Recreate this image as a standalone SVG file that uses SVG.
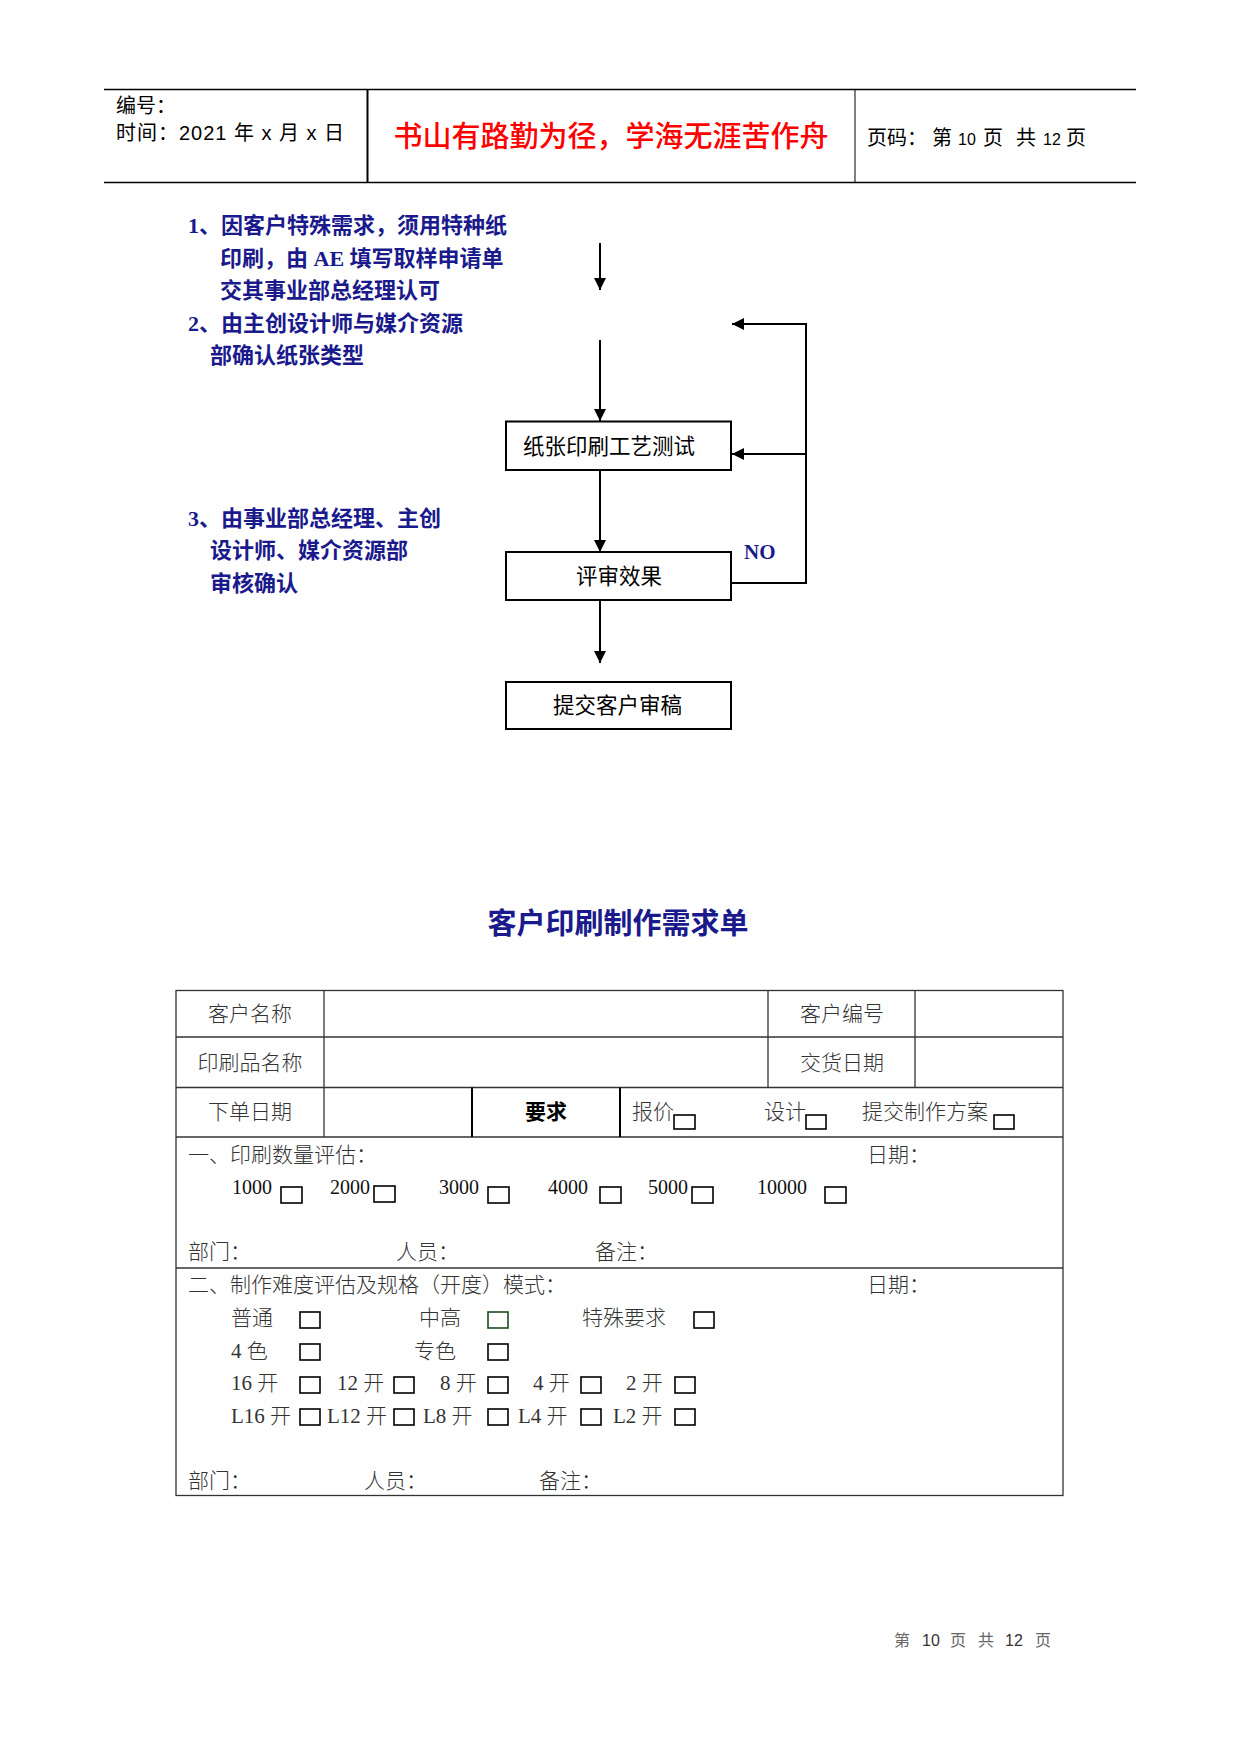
<svg xmlns="http://www.w3.org/2000/svg" width="1241" height="1754" viewBox="0 0 1241 1754">
<defs>
<marker id="ah" markerUnits="userSpaceOnUse" markerWidth="13" markerHeight="13" refX="12" refY="6" orient="auto">
<path d="M0,0 L12,6 L0,12 z" fill="#000"/>
</marker>
<style>
.hd{font-family:"Liberation Sans","Noto Sans CJK SC",sans-serif;font-size:20px;fill:#000}
.red{font-family:"Noto Sans CJK SC",sans-serif;font-size:29px;fill:#f00;font-weight:500}
.lst{font-family:"Liberation Serif","Noto Sans CJK SC",serif;font-size:22px;fill:#1a1a8c;font-weight:bold}
.bx{fill:#fff;stroke:#000;stroke-width:2}
.bt{font-family:"Noto Sans CJK SC",sans-serif;font-size:21.5px;fill:#000}
.cn{fill:none;stroke:#000;stroke-width:2}
.ttl{font-family:"Noto Sans CJK SC",sans-serif;font-size:29px;fill:#1a1a8c;font-weight:bold}
.tl{stroke:#333;stroke-width:1.3;fill:none}
.tt{font-family:"Liberation Serif","Noto Sans CJK SC",serif;font-size:21px;fill:#333;font-weight:300}
.num{font-family:"Liberation Serif",serif;font-size:20px;fill:#111}
.cb{fill:none;stroke:#000;stroke-width:1.6}
.ft{font-family:"Liberation Sans","Noto Sans CJK SC",sans-serif;font-size:16px;fill:#666}
</style>
</defs>
<rect width="1241" height="1754" fill="#fff"/>

<g id="header">
<line x1="104" y1="89.5" x2="1136" y2="89.5" stroke="#000" stroke-width="1.5"/>
<line x1="104" y1="182.5" x2="1136" y2="182.5" stroke="#000" stroke-width="1.5"/>
<line x1="367.5" y1="89.5" x2="367.5" y2="182.5" stroke="#000" stroke-width="2"/>
<line x1="855" y1="89.5" x2="855" y2="182.5" stroke="#000" stroke-width="1"/>
<text class="hd" x="116" y="113">编号：</text>
<text class="hd" x="116" y="140" textLength="228" lengthAdjust="spacing">时间：2021 年 x 月 x 日</text>
<text class="red" x="611" y="147" text-anchor="middle">书山有路勤为径，学海无涯苦作舟</text>
<text class="hd" x="867" y="145">页码：</text>
<text class="hd" x="932" y="145">第</text>
<text class="hd" x="958" y="145" style="font-size:16px">10</text>
<text class="hd" x="983" y="145">页</text>
<text class="hd" x="1016" y="145">共</text>
<text class="hd" x="1043" y="145" style="font-size:16px">12</text>
<text class="hd" x="1066" y="145">页</text>
</g>

<g id="notes">
<text class="lst" x="188" y="233">1、因客户特殊需求，须用特种纸</text>
<text class="lst" x="220" y="266">印刷，由 AE 填写取样申请单</text>
<text class="lst" x="220" y="298">交其事业部总经理认可</text>
<text class="lst" x="188" y="331">2、由主创设计师与媒介资源</text>
<text class="lst" x="210" y="363">部确认纸张类型</text>
<text class="lst" x="188" y="526">3、由事业部总经理、主创</text>
<text class="lst" x="210" y="558">设计师、媒介资源部</text>
<text class="lst" x="210" y="591">审核确认</text>
</g>

<g id="node-test">
<rect class="bx" x="506" y="421.5" width="225" height="48.5"/>
<text class="bt" x="523" y="454">纸张印刷工艺测试</text>
</g>
<g id="node-review">
<rect class="bx" x="506" y="552" width="225" height="48"/>
<text class="bt" x="576" y="584">评审效果</text>
</g>
<g id="node-submit">
<rect class="bx" x="506" y="682" width="225" height="47"/>
<text class="bt" x="553" y="713">提交客户审稿</text>
</g>

<g id="connectors">
<path class="cn" d="M600,243 L600,290" marker-end="url(#ah)"/>
<path class="cn" d="M600,340 L600,421" marker-end="url(#ah)"/>
<path class="cn" d="M600,470 L600,552" marker-end="url(#ah)"/>
<path class="cn" d="M600,600 L600,663" marker-end="url(#ah)"/>
<path class="cn" d="M731,583 L806,583 L806,324 L732,324" marker-end="url(#ah)"/>
<path class="cn" d="M806,454 L732,454" marker-end="url(#ah)"/>
<text x="744" y="559" style="font-family:'Liberation Serif',serif;font-size:21px;font-weight:bold;fill:#1a1a8c">NO</text>
</g>

<g id="form-title">
<text class="ttl" x="618" y="934" text-anchor="middle">客户印刷制作需求单</text>
</g>

<g id="form-table">
<rect class="tl" x="176" y="990.5" width="887" height="505"/>
<line class="tl" x1="176" y1="1037" x2="1063" y2="1037"/>
<line class="tl" x1="176" y1="1087.5" x2="1063" y2="1087.5"/>
<line class="tl" x1="176" y1="1137" x2="1063" y2="1137"/>
<line class="tl" x1="176" y1="1268" x2="1063" y2="1268"/>
<line class="tl" x1="324" y1="990.5" x2="324" y2="1137"/>
<line class="tl" x1="768" y1="990.5" x2="768" y2="1087.5"/>
<line class="tl" x1="915" y1="990.5" x2="915" y2="1087.5"/>
<line x1="472" y1="1087.5" x2="472" y2="1137" stroke="#000" stroke-width="2"/>
<line x1="620" y1="1087.5" x2="620" y2="1137" stroke="#000" stroke-width="2"/>

<text class="tt" x="250" y="1021" text-anchor="middle">客户名称</text>
<text class="tt" x="842" y="1021" text-anchor="middle">客户编号</text>
<text class="tt" x="250" y="1070" text-anchor="middle">印刷品名称</text>
<text class="tt" x="842" y="1070" text-anchor="middle">交货日期</text>
<text class="tt" x="250" y="1119" text-anchor="middle">下单日期</text>
<text class="tt" x="546" y="1119" text-anchor="middle" style="font-weight:bold;fill:#000">要求</text>
<text class="tt" x="632" y="1119">报价</text>
<rect class="cb" x="674" y="1115" width="21" height="14"/>
<text class="tt" x="764" y="1119">设计</text>
<rect class="cb" x="806" y="1115" width="20" height="14"/>
<text class="tt" x="862" y="1119">提交制作方案</text>
<rect class="cb" x="994" y="1115" width="20" height="14"/>

<text class="tt" x="188" y="1162">一、印刷数量评估：</text>
<text class="tt" x="867" y="1162">日期：</text>
<text class="num" x="232" y="1194">1000</text>
<rect class="cb" x="281" y="1187" width="21" height="16"/>
<text class="num" x="330" y="1194">2000</text>
<rect class="cb" x="374" y="1186" width="21" height="16"/>
<text class="num" x="439" y="1194">3000</text>
<rect class="cb" x="488" y="1187" width="21" height="16"/>
<text class="num" x="548" y="1194">4000</text>
<rect class="cb" x="600" y="1187" width="21" height="16"/>
<text class="num" x="648" y="1194">5000</text>
<rect class="cb" x="692" y="1187" width="21" height="16"/>
<text class="num" x="757" y="1194">10000</text>
<rect class="cb" x="825" y="1187" width="21" height="16"/>
<text class="tt" x="188" y="1259">部门：</text>
<text class="tt" x="396" y="1259">人员：</text>
<text class="tt" x="595" y="1259">备注：</text>

<text class="tt" x="188" y="1292">二、制作难度评估及规格（开度）模式：</text>
<text class="tt" x="867" y="1292">日期：</text>
<text class="tt" x="231" y="1325">普通</text>
<rect class="cb" x="300" y="1312" width="20" height="16"/>
<text class="tt" x="419" y="1325">中高</text>
<rect x="488" y="1312" width="20" height="16" fill="none" stroke="#1e4a1e" stroke-width="1.6"/>
<text class="tt" x="582" y="1325">特殊要求</text>
<rect class="cb" x="694" y="1312" width="20" height="16"/>
<text class="tt" x="231" y="1358">4 色</text>
<rect class="cb" x="300" y="1344" width="20" height="16"/>
<text class="tt" x="414" y="1358">专色</text>
<rect class="cb" x="488" y="1344" width="20" height="16"/>
<text class="tt" x="231" y="1390">16 开</text>
<rect class="cb" x="300" y="1377" width="20" height="16"/>
<text class="tt" x="337" y="1390">12 开</text>
<rect class="cb" x="394" y="1377" width="20" height="16"/>
<text class="tt" x="440" y="1390">8 开</text>
<rect class="cb" x="488" y="1377" width="20" height="16"/>
<text class="tt" x="533" y="1390">4 开</text>
<rect class="cb" x="581" y="1377" width="20" height="16"/>
<text class="tt" x="626" y="1390">2 开</text>
<rect class="cb" x="675" y="1377" width="20" height="16"/>
<text class="tt" x="231" y="1423">L16 开</text>
<rect class="cb" x="300" y="1409" width="20" height="16"/>
<text class="tt" x="327" y="1423">L12 开</text>
<rect class="cb" x="394" y="1409" width="20" height="16"/>
<text class="tt" x="423" y="1423">L8 开</text>
<rect class="cb" x="488" y="1409" width="20" height="16"/>
<text class="tt" x="518" y="1423">L4 开</text>
<rect class="cb" x="581" y="1409" width="20" height="16"/>
<text class="tt" x="613" y="1423">L2 开</text>
<rect class="cb" x="675" y="1409" width="20" height="16"/>
<text class="tt" x="188" y="1488">部门：</text>
<text class="tt" x="364" y="1488">人员：</text>
<text class="tt" x="539" y="1488">备注：</text>
</g>

<g id="footer">
<text class="ft" x="894" y="1646">第</text>
<text class="ft" x="922" y="1646" style="fill:#333">10</text>
<text class="ft" x="950" y="1646">页</text>
<text class="ft" x="978" y="1646">共</text>
<text class="ft" x="1005" y="1646" style="fill:#333">12</text>
<text class="ft" x="1035" y="1646">页</text>
</g>
</svg>
